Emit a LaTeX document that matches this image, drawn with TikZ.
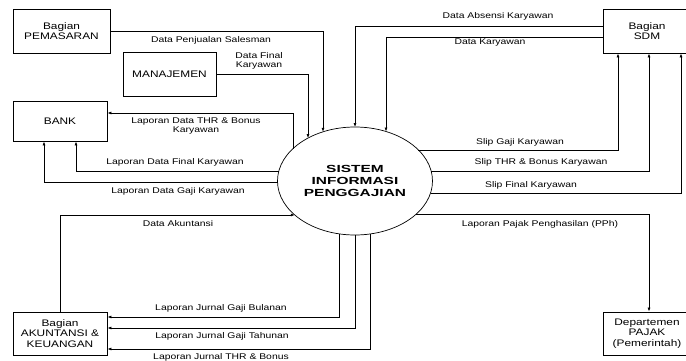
\documentclass[tikz,border=0pt]{standalone}
\usepackage{fontspec}
\setmainfont{Liberation Sans}[FakeStretch=1.25]
\newfontfamily\sysfont{Liberation Sans}[FakeStretch=1.5]
\usetikzlibrary{shapes.geometric,arrows.meta}
\begin{document}
\begin{tikzpicture}[x=1pt,y=-1pt,
  entity/.style={draw,line width=0.8pt,inner sep=0pt,align=center,
    font=\fontsize{9.5}{10.5}\selectfont},
  flow/.style={draw,line width=0.7pt,-{Latex[length=4pt,width=3pt]}},
  lbl/.style={inner sep=0pt,align=center,font=\fontsize{8.3}{8.6}\selectfont},
  % border of the process ellipse: centre (355,181), radii 77.5 x 54
  declare function={rimy(\x)=54*sqrt(1-((\x-355)/77.5)^2);
                    rimx(\y)=77.5*sqrt(1-((\y-181)/54)^2);}]
\useasboundingbox (0,0) rectangle (686,361);

% external entities
\node[entity,minimum width=97pt,minimum height=44pt] (pem) at (61.5,31) {Bagian\\PEMASARAN};
\node[entity,minimum width=93pt,minimum height=44pt] (man) at (169.5,74) {MANAJEMEN};
\node[entity,minimum width=94pt,minimum height=40pt] (bank) at (60,121) {BANK};
\node[entity,minimum width=88pt,minimum height=44pt] (sdm) at (647,31) {Bagian\\SDM};
\node[entity,minimum width=94pt,minimum height=43pt] (akt) at (60,333.5) {Bagian\\AKUNTANSI \&\\KEUANGAN};
\node[entity,minimum width=88pt,minimum height=43pt] (pajak) at (647,333.5) {Departemen\\PAJAK\\(Pemerintah)};

% process
\node[draw,ellipse,line width=0.7pt,minimum width=155pt,minimum height=108pt,inner sep=0pt,
      align=center,font=\sysfont\bfseries\fontsize{10.3}{12}\selectfont] (sys) at (355,181)
      {SISTEM\\INFORMASI\\PENGGAJIAN};

% points on the ellipse border where the flows meet it
\coordinate (pemIn) at (323,{181-rimy(323)});
\coordinate (manIn) at (308,{181-rimy(308)});
\coordinate (absIn) at (355,{181-rimy(355)});
\coordinate (kryIn) at (386,{181-rimy(386)});
\coordinate (gajiOut) at ({355+rimx(150)},150);
\coordinate (thrOut) at ({355+rimx(171)},171);
\coordinate (finOut) at ({355+rimx(193)},193);
\coordinate (bnkThr) at (293,{181-rimy(293)});
\coordinate (bnkFin) at ({355-rimx(171)},171);
\coordinate (bnkGaji) at ({355-rimx(182)},182);
\coordinate (aktIn) at ({355-rimx(215)},215);
\coordinate (jBul) at (339,{181+rimy(339)});
\coordinate (jTah) at (355,{181+rimy(355)});
\coordinate (jThr) at (370,{181+rimy(370)});
\coordinate (pphOut) at ({355+rimx(214)},214);

% data flows
\draw[flow] (pem.east) -| (pemIn);
\draw[flow] (man.east) -| (manIn);
\draw[flow] ([yshift=5pt]sdm.west) -| (absIn);
\draw[flow] ([yshift=-6pt]sdm.west) -| (kryIn);
\draw[flow] (gajiOut) -| ([xshift=-29pt]sdm.south);
\draw[flow] (thrOut) -| ([xshift=2pt]sdm.south);
\draw[flow] (finOut) -| ([xshift=34pt]sdm.south);
\draw[flow] (bnkThr) |- ([yshift=8pt]bank.east);
\draw[flow] (bnkFin) -| ([xshift=16pt]bank.south);
\draw[flow] (bnkGaji) -| ([xshift=-16pt]bank.south);
\draw[flow] (akt.north) |- (aktIn);
\draw[flow] (jBul) |- ([yshift=16.5pt]akt.east);
\draw[flow] (jTah) |- ([yshift=5.5pt]akt.east);
\draw[flow] (jThr) |- ([yshift=-15.5pt]akt.east);
\draw[flow] (pphOut) -| ([xshift=2pt]pajak.north);

% flow labels
\node[lbl] (lPem) at (211,40) {Data Penjualan Salesman};
\node[lbl] (lMan) at (259,61) {Data Final\\Karyawan};
\node[lbl] (lAbs) at (498,16) {Data Absensi Karyawan};
\node[lbl] (lKry) at (490,43) {Data Karyawan};
\node[lbl] (lGaji) at (520,142) {Slip Gaji Karyawan};
\node[lbl] (lThr) at (541,162) {Slip THR \& Bonus Karyawan};
\node[lbl] (lFin) at (531,185) {Slip Final Karyawan};
\node[lbl] (lBThr) at (196,126) {Laporan Data THR \& Bonus\\Karyawan};
\node[lbl] (lBFin) at (175,162) {Laporan Data Final Karyawan};
\node[lbl] (lBGaji) at (178,191) {Laporan Data Gaji Karyawan};
\node[lbl] (lAkt) at (178,224) {Data Akuntansi};
\node[lbl] (lPph) at (540,224) {Laporan Pajak Penghasilan (PPh)};
\node[lbl] (lJBul) at (221,308) {Laporan Jurnal Gaji Bulanan};
\node[lbl] (lJTah) at (222,336) {Laporan Jurnal Gaji Tahunan};
\node[lbl] (lJThr) at (221,357) {Laporan Jurnal THR \& Bonus};
\end{tikzpicture}
\end{document}
